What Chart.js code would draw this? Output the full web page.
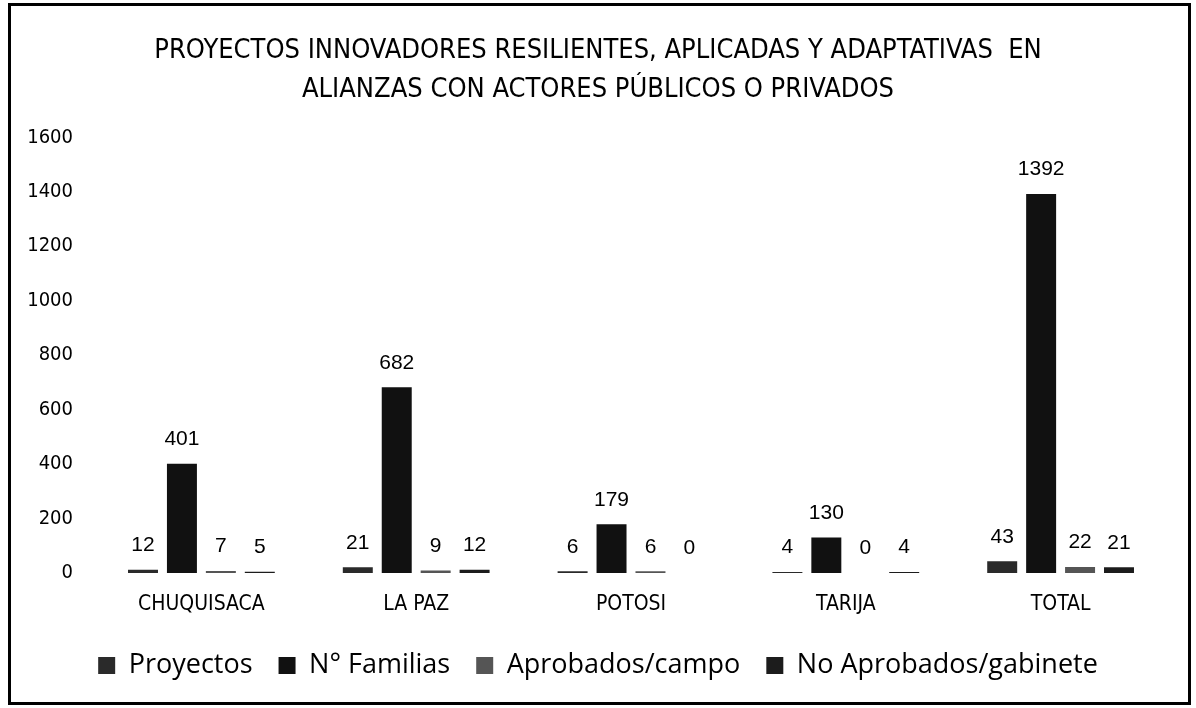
<!DOCTYPE html>
<html lang="es">
<head>
<meta charset="UTF-8">
<title>Proyectos innovadores</title>
<style>
    html, body { margin: 0; padding: 0; background: #fff; }
    .frame {
        position: absolute;
        left: 8px; top: 3px;
        width: 1183px; height: 702px;
        border: 3px solid #000;
        box-sizing: border-box;
    }
    #wrap {
        position: absolute;
        left: 0; top: 0;
        width: 1196px; height: 708px;
    }
</style>
</head>
<body>
<div class="frame"></div>
<div id="wrap"><canvas id="chart"></canvas></div>

<script src="https://cdn.jsdelivr.net/npm/chart.js"></script>
<script>
// datos
var categorias = ["CHUQUISACA", "LA PAZ", "POTOSI", "TARIJA", "TOTAL"];
var proyectos = [12, 21, 6, 4, 43];
var familias = [401, 682, 179, 130, 1392];
var aprobados = [7, 9, 6, 0, 22];
var noAprobados = [5, 12, 0, 4, 21];

var tituloLineas = [
    "PROYECTOS INNOVADORES RESILIENTES, APLICADAS Y ADAPTATIVAS  EN",
    "ALIANZAS CON ACTORES PÚBLICOS O PRIVADOS"
];

var fuente = "'Liberation Sans Narrow', 'DejaVu Sans Condensed', Arial, sans-serif";

// etiquetas de valor encima de cada barra
var etiquetasValor = {
    id: 'etiquetasValor',
    afterDatasetsDraw: function (chart) {
        var ctx = chart.ctx;
        ctx.save();
        ctx.font = "21px 'Liberation Sans', Arial, sans-serif";
        ctx.fillStyle = '#000';
        ctx.textAlign = 'center';
        ctx.textBaseline = 'bottom';
        chart.data.datasets.forEach(function (ds, i) {
            var meta = chart.getDatasetMeta(i);
            meta.data.forEach(function (bar, j) {
                ctx.fillText(ds.data[j], bar.x, bar.y - 14);
            });
        });
        ctx.restore();
    }
};

var ctx = document.getElementById('chart').getContext('2d');
new Chart(ctx, {
    type: 'bar',
    data: {
        labels: categorias,
        datasets: [
            { label: 'Proyectos', data: proyectos, backgroundColor: '#2a2a2a' },
            { label: 'N° Familias', data: familias, backgroundColor: '#111111' },
            { label: 'Aprobados/campo', data: aprobados, backgroundColor: '#555555' },
            { label: 'No Aprobados/gabinete', data: noAprobados, backgroundColor: '#1c1c1c' }
        ]
    },
    options: {
        responsive: true,
        maintainAspectRatio: false,
        animation: false,
        layout: { padding: { left: 28, right: 28, top: 13, bottom: 19 } },
        datasets: {
            bar: { categoryPercentage: 0.725, barPercentage: 0.77 }
        },
        plugins: {
            title: {
                display: true,
                text: tituloLineas,
                color: '#000',
                font: { family: fuente, size: 27, weight: 'normal', lineHeight: 1.45 },
                padding: { top: 18, bottom: 28 }
            },
            legend: {
                position: 'bottom',
                labels: {
                    color: '#000',
                    font: { family: "'Open Sans', sans-serif", size: 27 },
                    boxWidth: 17,
                    boxHeight: 17,
                    padding: 26
                }
            },
            tooltip: { enabled: false }
        },
        scales: {
            x: {
                grid: { display: false },
                border: { display: false },
                afterFit: function (scale) { scale.height = 53; },
                ticks: {
                    color: '#000',
                    padding: 11,
                    font: { family: fuente, size: 21 }
                }
            },
            y: {
                min: 0,
                max: 1600,
                grid: { display: false },
                border: { display: false },
                afterFit: function (scale) { scale.width = 66; },
                ticks: {
                    stepSize: 200,
                    color: '#000',
                    padding: 13,
                    font: { family: fuente, size: 20 },
                    callback: function (v) { return String(v); }
                }
            }
        }
    },
    plugins: [etiquetasValor]
});
</script>
</body>
</html>
